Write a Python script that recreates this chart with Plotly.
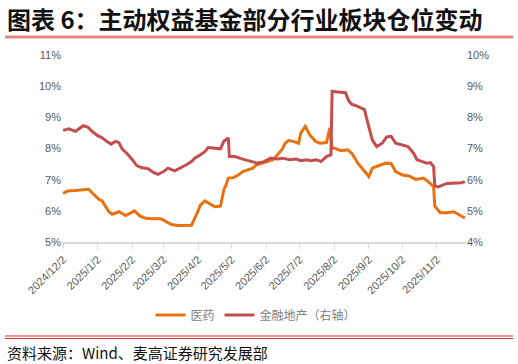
import plotly.graph_objects as go

# 医药 (left axis, %)
med_dates = ["2024-12-02","2024-12-06","2024-12-13","2024-12-19","2024-12-25","2024-12-27","2024-12-31",
             "2025-01-03","2025-01-06","2025-01-09","2025-01-12","2025-01-15","2025-01-21","2025-01-27",
             "2025-02-04","2025-02-09","2025-02-13","2025-02-19","2025-02-27","2025-03-02","2025-03-09",
             "2025-03-15","2025-03-26","2025-03-27","2025-04-01","2025-04-04","2025-04-08","2025-04-13",
             "2025-04-17","2025-04-22","2025-04-25","2025-04-27","2025-04-29","2025-05-03","2025-05-08",
             "2025-05-12","2025-05-17","2025-05-21","2025-05-24","2025-05-29","2025-06-04","2025-06-08",
             "2025-06-12","2025-06-16","2025-06-19","2025-06-22","2025-06-26","2025-07-01","2025-07-03",
             "2025-07-07","2025-07-11","2025-07-16","2025-07-20","2025-07-26","2025-07-29","2025-07-31",
             "2025-08-02","2025-08-08","2025-08-14","2025-08-18","2025-08-23","2025-08-27","2025-09-02",
             "2025-09-05","2025-09-11","2025-09-17","2025-09-22","2025-09-26","2025-10-02","2025-10-08",
             "2025-10-14","2025-10-21","2025-10-27","2025-10-30","2025-10-31","2025-11-05","2025-11-11",
             "2025-11-17","2025-11-21","2025-11-27"]
med_values = [6.56,6.64,6.65,6.67,6.69,6.61,6.47,
              6.37,6.32,6.13,5.97,5.89,5.97,5.85,
              6.00,5.83,5.77,5.75,5.75,5.70,5.56,
              5.53,5.52,5.54,5.92,6.18,6.32,6.22,
              6.13,6.15,6.67,6.83,7.05,7.06,7.15,
              7.26,7.31,7.37,7.47,7.53,7.58,7.64,
              7.80,7.96,8.17,8.26,8.23,8.17,8.50,
              8.71,8.44,8.23,8.17,8.19,8.66,8.03,
              8.01,7.93,7.96,7.83,7.53,7.37,7.10,
              7.37,7.44,7.53,7.51,7.26,7.15,7.12,
              7.01,7.05,6.88,6.77,6.15,5.94,5.94,
              5.97,5.89,5.77]

# 金融地产 (right axis, %)
fin_dates = ["2024-12-02","2024-12-07","2024-12-13","2024-12-20","2024-12-24","2024-12-28","2025-01-02",
             "2025-01-06","2025-01-10","2025-01-14","2025-01-18","2025-01-21","2025-01-24","2025-01-28",
             "2025-02-02","2025-02-06","2025-02-10","2025-02-16","2025-02-21","2025-02-25","2025-03-02",
             "2025-03-06","2025-03-12","2025-03-17","2025-03-22","2025-03-27","2025-03-30","2025-04-04",
             "2025-04-08","2025-04-11","2025-04-17","2025-04-22","2025-04-25","2025-04-29","2025-04-30",
             "2025-05-05","2025-05-12","2025-05-20","2025-05-25","2025-05-31","2025-06-06","2025-06-12",
             "2025-06-17","2025-06-23","2025-06-29","2025-07-03","2025-07-08","2025-07-12","2025-07-17",
             "2025-07-21","2025-07-26","2025-07-30","2025-07-31","2025-08-05","2025-08-12","2025-08-15",
             "2025-08-18","2025-08-21","2025-08-26","2025-08-29","2025-09-01","2025-09-05","2025-09-09",
             "2025-09-14","2025-09-18","2025-09-22","2025-09-26","2025-10-02","2025-10-07","2025-10-12",
             "2025-10-15","2025-10-20","2025-10-24","2025-10-27","2025-10-30","2025-10-31","2025-11-03",
             "2025-11-11","2025-11-19","2025-11-24","2025-11-27"]
fin_values = [7.58,7.63,7.55,7.73,7.69,7.55,7.41,
              7.34,7.23,7.14,7.23,7.19,6.98,6.85,
              6.64,6.45,6.39,6.35,6.23,6.17,6.26,
              6.37,6.28,6.37,6.47,6.58,6.69,6.80,
              6.90,7.03,7.01,6.99,7.23,7.34,6.74,
              6.74,6.66,6.58,6.53,6.58,6.69,6.66,
              6.69,6.64,6.66,6.61,6.64,6.61,6.64,
              6.58,6.74,6.80,8.84,8.81,8.79,8.52,
              8.41,8.38,8.30,8.25,7.82,7.28,7.06,
              7.17,7.37,7.39,7.17,7.10,7.06,6.85,
              6.64,6.58,6.53,6.55,6.42,5.80,5.77,
              5.88,5.88,5.90,5.94]

tick_vals = ["2024-12-02","2025-01-02","2025-02-02","2025-03-02","2025-04-02","2025-05-02",
             "2025-06-02","2025-07-02","2025-08-02","2025-09-02","2025-10-02","2025-11-02"]
tick_text = ["2024/12/2","2025/1/2","2025/2/2","2025/3/2","2025/4/2","2025/5/2",
             "2025/6/2","2025/7/2","2025/8/2","2025/9/2","2025/10/2","2025/11/2"]

ORANGE = "#E97210"
RED = "#C24F4E"
GRAY = "#595959"
FONT = "Liberation Sans, Arial, Noto Sans CJK SC"

fig = go.Figure()
fig.add_trace(go.Scatter(x=med_dates, y=med_values, mode="lines", name="医药",
                         line=dict(color=ORANGE, width=3)))
fig.add_trace(go.Scatter(x=fin_dates, y=fin_values, mode="lines", name="金融地产（右轴）",
                         line=dict(color=RED, width=3), yaxis="y2"))

L, R, T, B = 62, 52, 55, 122
W, H = 518, 364
pw, ph = W - L - R, H - T - B

def px2x(p):
    return (p - L) / pw

def py2y(p):
    return (H - B - p) / ph

fig.update_layout(
    width=W, height=H,
    margin=dict(l=L, r=R, t=T, b=B, autoexpand=False),
    paper_bgcolor="white", plot_bgcolor="white",
    font=dict(family=FONT, size=11, color=GRAY),
    showlegend=True,
    legend=dict(orientation="h", x=px2x(256), xanchor="center", y=py2y(315), yanchor="middle",
                font=dict(family="Noto Sans CJK SC", size=12, color="#7F7F7F"),
                itemwidth=30, tracegroupgap=0, bgcolor="rgba(0,0,0,0)"),
    xaxis=dict(type="date", range=["2024-12-01", "2025-11-28"],
               tickvals=tick_vals, ticktext=tick_text, tickangle=-45,
               showgrid=False, zeroline=False, showline=True, linecolor="#D9D9D9", linewidth=1.5,
               ticks="outside", ticklen=5, tickcolor="#D9D9D9",
               tickfont=dict(family=FONT, size=11, color=GRAY)),
    yaxis=dict(range=[5, 11], dtick=1, ticksuffix="%", showgrid=False, zeroline=False,
               showline=False, ticks="", tickfont=dict(family=FONT, size=11, color=GRAY)),
    yaxis2=dict(range=[4, 10], dtick=1, ticksuffix="%", overlaying="y", side="right",
                showgrid=False, zeroline=False, showline=False, ticks="",
                tickfont=dict(family=FONT, size=11, color=GRAY)),
)

fig.add_annotation(text="<b>图表 6：主动权益基金部分行业板块仓位变动</b>",
                   xref="paper", yref="paper", x=px2x(5), y=py2y(18),
                   xanchor="left", yanchor="middle", showarrow=False,
                   font=dict(family="Noto Sans CJK SC", size=24, color="#111111"))
fig.add_shape(type="line", xref="paper", yref="paper",
              x0=px2x(5), x1=px2x(513), y0=py2y(37), y1=py2y(37),
              line=dict(color="#E8837F", width=3))
fig.add_shape(type="line", xref="paper", yref="paper",
              x0=px2x(5), x1=px2x(513), y0=py2y(336), y1=py2y(336),
              line=dict(color="#E02A2A", width=1))
fig.add_shape(type="line", xref="paper", yref="paper",
              x0=px2x(5), x1=px2x(513), y0=py2y(338.5), y1=py2y(338.5),
              line=dict(color="#E02A2A", width=1))
fig.add_annotation(text="资料来源：Wind、麦高证券研究发展部",
                   xref="paper", yref="paper", x=px2x(5), y=py2y(352),
                   xanchor="left", yanchor="middle", showarrow=False,
                   font=dict(family="Noto Sans CJK SC", size=15, color="#111111"))

fig.write_html("out.html", config={"displayModeBar": False},
               post_script="document.body.style.margin='0';document.body.style.padding='0';")
